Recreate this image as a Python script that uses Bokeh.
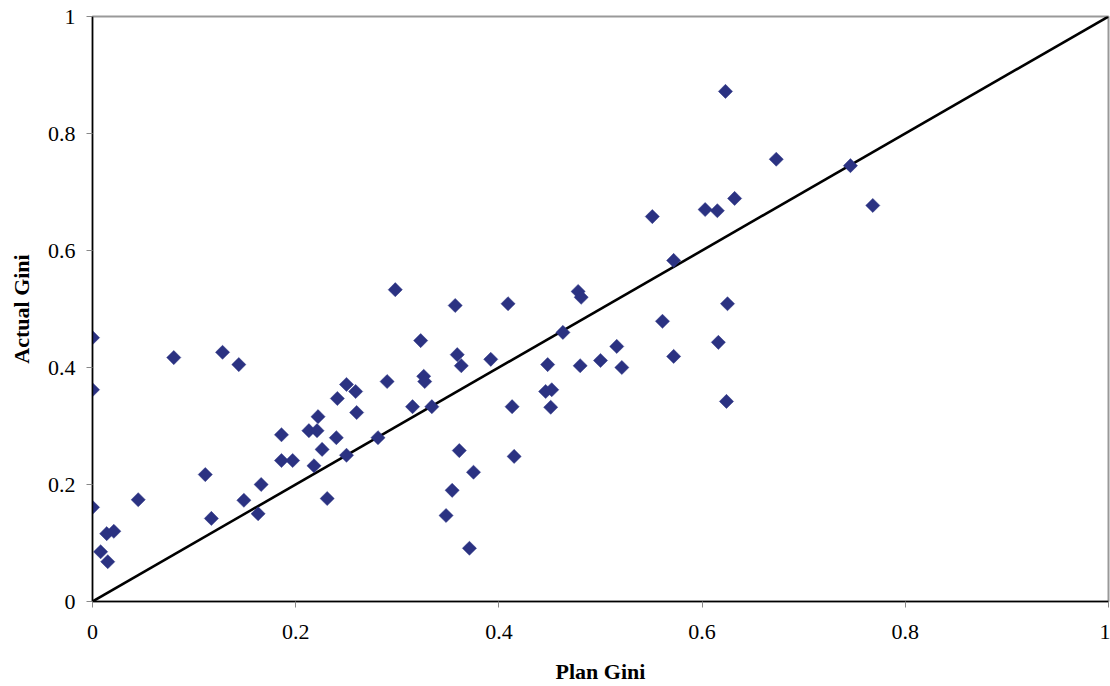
from bokeh.plotting import figure
from bokeh.embed import file_html
from bokeh.resources import INLINE
from bokeh.models import Range1d, FixedTicker
import math

plan_gini = [0.000, 0.000, 0.000, 0.008, 0.014, 0.015, 0.021, 0.045, 0.080, 0.111,
             0.117, 0.128, 0.144, 0.149, 0.163, 0.166, 0.186, 0.186, 0.197, 0.213,
             0.218, 0.221, 0.222, 0.226, 0.231, 0.240, 0.241, 0.250, 0.250, 0.259,
             0.260, 0.281, 0.290, 0.298, 0.315, 0.323, 0.326, 0.327, 0.334, 0.348,
             0.354, 0.357, 0.359, 0.361, 0.363, 0.371, 0.375, 0.392, 0.409, 0.413,
             0.415, 0.446, 0.448, 0.451, 0.452, 0.463, 0.478, 0.481, 0.480, 0.500,
             0.516, 0.521, 0.551, 0.561, 0.572, 0.572, 0.603, 0.615, 0.616, 0.623,
             0.625, 0.624, 0.632, 0.673, 0.746, 0.768]
actual_gini = [0.451, 0.362, 0.161, 0.085, 0.116, 0.068, 0.120, 0.174, 0.417, 0.217,
               0.142, 0.426, 0.405, 0.173, 0.150, 0.200, 0.285, 0.241, 0.241, 0.292,
               0.232, 0.292, 0.316, 0.260, 0.176, 0.280, 0.347, 0.371, 0.250, 0.359,
               0.323, 0.280, 0.376, 0.533, 0.333, 0.446, 0.385, 0.376, 0.333, 0.147,
               0.190, 0.506, 0.422, 0.258, 0.403, 0.091, 0.221, 0.414, 0.509, 0.333,
               0.248, 0.359, 0.405, 0.332, 0.362, 0.460, 0.530, 0.520, 0.403, 0.412,
               0.436, 0.400, 0.658, 0.479, 0.583, 0.419, 0.670, 0.668, 0.443, 0.872,
               0.509, 0.342, 0.689, 0.756, 0.745, 0.677]

line_x = [0, 1]
line_y = [0, 1]
ticks = [0, 0.2, 0.4, 0.6, 0.8, 1]
tick_labels = {0: "0", 0.2: "0.2", 0.4: "0.4", 0.6: "0.6", 0.8: "0.8", 1: "1"}

p = figure(width=1110, height=686, output_backend="svg", toolbar_location=None,
           x_range=Range1d(0, 1), y_range=Range1d(0, 1),
           min_border_left=92, min_border_right=2, min_border_top=16, min_border_bottom=85)

p.xgrid.visible = False
p.ygrid.visible = False
p.outline_line_color = "#999999"
p.outline_line_width = 2

p.line(line_x, line_y, line_color="black", line_width=2.6)
p.scatter(plan_gini, actual_gini, marker="square", size=10, angle=math.pi / 4,
          fill_color="#2B3282", line_color="#2B3282", line_width=0.5)

for ax in (p.xaxis[0], p.yaxis[0]):
    ax.ticker = FixedTicker(ticks=ticks)
    ax.major_label_overrides = tick_labels
    ax.axis_line_color = "black"
    ax.axis_line_width = 1.5
    ax.major_tick_line_color = "#888888"
    ax.major_tick_out = 6
    ax.major_tick_in = 0
    ax.minor_tick_line_color = None
    ax.major_label_text_font = "Liberation Serif"
    ax.major_label_text_font_size = "22px"
    ax.major_label_text_color = "black"
    ax.axis_label_text_font = "Liberation Serif"
    ax.axis_label_text_font_size = "22px"
    ax.axis_label_text_font_style = "bold"
    ax.axis_label_text_color = "black"

p.xaxis.axis_label = "Plan Gini"
p.yaxis.axis_label = "Actual Gini"
p.xaxis.major_label_standoff = 17
p.xaxis.axis_label_standoff = 17
p.yaxis.major_label_standoff = 11
p.yaxis.axis_label_standoff = 11

open("out.html", "w").write(file_html(p, INLINE))
